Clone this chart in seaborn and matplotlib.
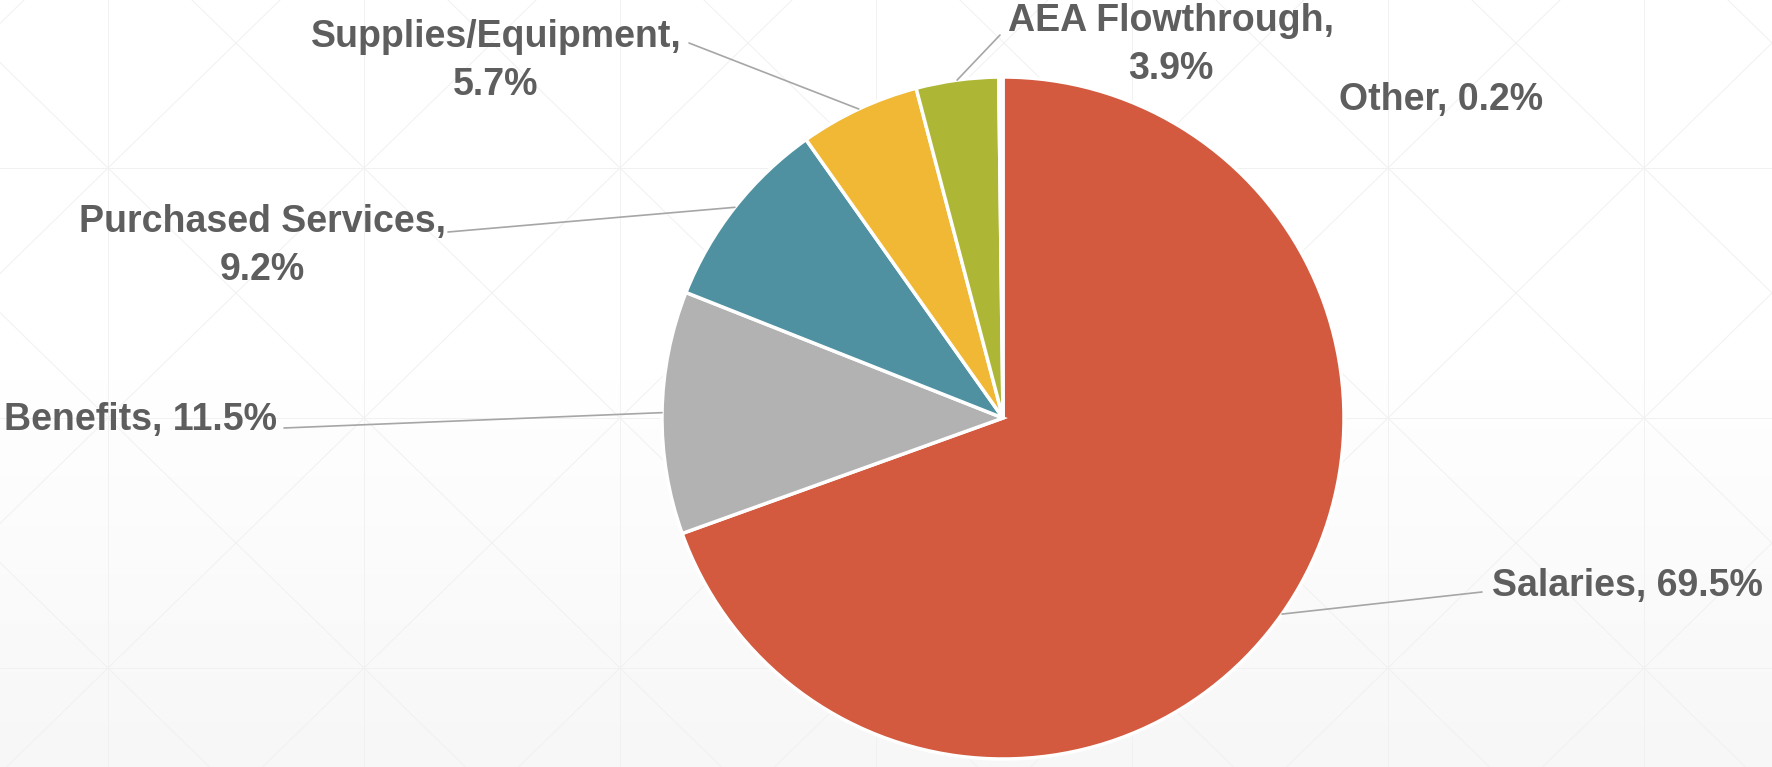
import numpy as np
import matplotlib.pyplot as plt
import seaborn as sns

# budget shares (percent), clockwise from 12 o'clock
categories = ['Salaries', 'Benefits', 'Purchased Services',
              'Supplies/Equipment', 'AEA Flowthrough', 'Other']
shares = [69.5, 11.5, 9.2, 5.7, 3.9, 0.2]
colors = ['#D35A3F', '#B2B2B2', '#4F91A1', '#F0B834', '#AEB735', '#FFFFFF']
wrap_label = [False, False, True, True, True, False]

# label layout in image pixels (x from left, y from top)
label_pos = [(1627, 586), (141, 420), (262, 246), (496, 61), (1171, 45), (1441, 100)]
leader_start = [(1482, 592), (284, 428), (448, 232), (689, 43), (1000, 35), None]

W, H = 1772, 767
cx, cy, R = 1003, 418, 341

sns.set_theme(style='white')
plt.rcParams['font.family'] = ['Liberation Sans', 'DejaVu Sans']

fig = plt.figure(figsize=(W / 100, H / 100), dpi=100)

# faint background: light gradient + triangle grid
bg = fig.add_axes([0, 0, 1, 1], zorder=-1)
grad = np.ones((H, 1))
ys = np.arange(H)
grad[:, 0] = np.clip((ys - 330) / (H - 330), 0, 1)
bg.imshow(1 - grad * 0.035, cmap='gray', vmin=0, vmax=1, aspect='auto',
          extent=(0, W, H, 0))
gx0, gdx = 108, 256
gy0, gdy = 168, 250
line_kw = dict(color='#F1F1F1', lw=0.7, zorder=1)
for k in range(-1, 8):
    x = gx0 + k * gdx
    bg.plot([x, x], [0, H], **line_kw)
for j in range(-1, 4):
    y = gy0 + j * gdy
    bg.plot([0, W], [y, y], **line_kw)
    for k in range(-1, 8):
        x = gx0 + k * gdx
        bg.plot([x, x + gdx], [y, y + gdy], **line_kw)
        bg.plot([x, x + gdx], [y + gdy, y], **line_kw)
bg.set_xlim(0, W)
bg.set_ylim(H, 0)
bg.axis('off')

# pie, radius 1 in data units
ax = fig.add_axes([0, 0, 1, 1])
wedges, _ = ax.pie(shares, colors=colors, startangle=90, counterclock=False,
                   radius=1, center=(0, 0),
                   wedgeprops=dict(edgecolor='white', linewidth=2.5))
ax.set_xlim(-cx / R, (W - cx) / R)
ax.set_ylim(-(H - cy) / R, cy / R)
ax.set_aspect('equal')
ax.axis('off')


def to_data(px, py):
    return (px - cx) / R, (cy - py) / R


for w, name, val, wrap, pos, start in zip(wedges, categories, shares, wrap_label,
                                          label_pos, leader_start):
    sep = ',\n' if wrap else ', '
    tx, ty = to_data(*pos)
    ax.text(tx, ty, f'{name}{sep}{val:.1f}%', ha='center', va='center',
            fontsize=27, fontweight='bold', color='#5E5E5E', linespacing=1.4)
    if start is not None:
        mid = np.deg2rad((w.theta1 + w.theta2) / 2)
        sx, sy = to_data(*start)
        ax.plot([sx, np.cos(mid)], [sy, np.sin(mid)], color='#A6A6A6', lw=1.2)

fig.savefig('out.png', dpi=100)
